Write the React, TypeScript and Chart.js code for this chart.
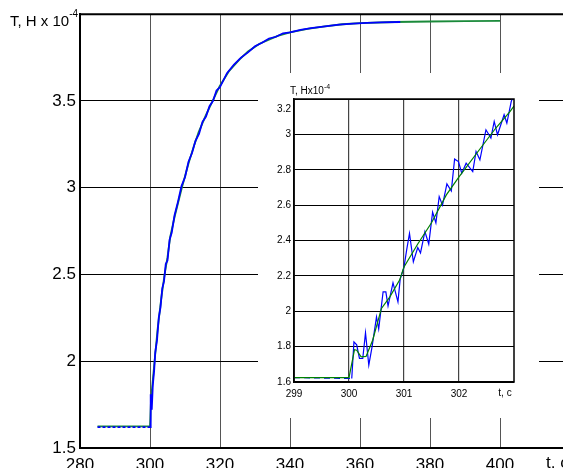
import React, { useEffect, useRef } from 'react';
import { Chart, registerables } from 'chart.js';
Chart.register(...registerables);

// ---------- main chart data ----------
const mainGreenT = [285, 300, 300.3, 301.3, 302.2, 303.2, 304.1, 305.0, 305.8, 307, 309.1, 311, 312.7, 313.9, 316, 317.9, 319.9, 322.5, 325.6, 328, 331.3, 336.5, 340, 345, 350, 355, 360, 370, 380, 390, 400];
const mainGreenV = [1.625, 1.625, 1.78, 2.0, 2.19, 2.36, 2.49, 2.6, 2.72, 2.83, 3.0, 3.14, 3.25, 3.32, 3.42, 3.5, 3.585, 3.67, 3.74, 3.785, 3.83, 3.875, 3.895, 3.915, 3.93, 3.942, 3.948, 3.955, 3.958, 3.96, 3.961];

const mainBlueT = [285, 290, 295, 300, 300.2, 300.5, 300.8, 301.2, 301.5, 302, 302.5, 303, 303.5, 304, 304.5, 305, 305.6, 306.2, 307, 308, 309, 310, 311, 312, 313, 314, 315, 316, 317, 318, 319, 320, 322, 324, 326, 328, 330, 332, 334, 336, 338, 340, 343, 346, 350, 354, 358, 362, 366, 371.5];
const mainBlueV = [1.62, 1.62, 1.62, 1.62, 1.81, 1.72, 1.86, 1.95, 2.05, 2.12, 2.25, 2.31, 2.42, 2.46, 2.56, 2.58, 2.7, 2.74, 2.84, 2.92, 3.01, 3.06, 3.15, 3.2, 3.27, 3.31, 3.38, 3.41, 3.47, 3.5, 3.56, 3.58, 3.66, 3.71, 3.75, 3.78, 3.815, 3.835, 3.86, 3.87, 3.89, 3.895, 3.91, 3.92, 3.93, 3.94, 3.946, 3.95, 3.953, 3.955];

const mainXTicks = [280, 300, 320, 340, 360, 380, 400];
const mainXLabels = ['280', '300', '320', '340', '360', '380', '400'];
const mainYTicks = [1.5, 2, 2.5, 3, 3.5];
const mainYLabels = ['1.5', '2', '2.5', '3', '3.5'];

// ---------- inset data ----------
const insetGreenT = [299, 300, 300.1, 300.14, 300.22, 300.31, 300.43, 300.59, 300.74, 300.92, 301.0, 301.25, 301.5, 301.77, 302.0, 302.37, 302.67, 302.93, 303];
const insetGreenV = [1.625, 1.625, 1.783, 1.78, 1.742, 1.745, 1.836, 2.016, 2.08, 2.176, 2.25, 2.38, 2.5, 2.658, 2.76, 2.913, 3.036, 3.13, 3.16];

const insetBlueT = [299, 300.05, 300.09, 300.14, 300.19, 300.25, 300.3, 300.36, 300.42, 300.5, 300.54, 300.62, 300.67, 300.71, 300.8, 300.89, 300.93, 301.0, 301.05, 301.1, 301.17, 301.25, 301.3, 301.38, 301.45, 301.52, 301.58, 301.64, 301.7, 301.78, 301.86, 301.92, 301.99, 302.05, 302.13, 302.25, 302.31, 302.38, 302.49, 302.58, 302.64, 302.7, 302.82, 302.87, 302.95, 303];
const insetBlueV = [1.625, 1.62, 1.827, 1.81, 1.733, 1.733, 1.878, 1.695, 1.8, 1.968, 1.9, 2.11, 2.11, 2.03, 2.16, 2.053, 2.18, 2.25, 2.35, 2.44, 2.28, 2.36, 2.33, 2.45, 2.38, 2.56, 2.5, 2.648, 2.6, 2.72, 2.68, 2.86, 2.846, 2.78, 2.837, 2.79, 2.903, 2.856, 3.026, 2.979, 3.073, 2.998, 3.111, 3.064, 3.186, 3.23];

const insetXTicks = [299, 300, 301, 302];
const insetXLabels = ['299', '300', '301', '302'];
const insetYTicks = [1.6, 1.8, 2.0, 2.2, 2.4, 2.6, 2.8, 3.0, 3.2];
const insetYLabels = ['1.6', '1.8', '2', '2.2', '2.4', '2.6', '2.8', '3', ''];

const FONT = "'Liberation Sans', Arial, sans-serif";
const NARROW = "'Liberation Sans Narrow', 'Liberation Sans', Arial, sans-serif";

const pts = (t: number[], v: number[]) => t.map((x, i) => ({ x, y: v[i] }));

const mainTextPlugin = {
  id: 'mainText',
  afterDraw(chart: any) {
    const ctx = chart.ctx;
    const a = chart.chartArea;
    ctx.save();
    ctx.strokeStyle = '#000';
    ctx.lineWidth = 2;
    ctx.beginPath();
    ctx.moveTo(a.left, a.top);
    ctx.lineTo(a.right, a.top);
    ctx.stroke();
    ctx.fillStyle = '#000';
    ctx.textBaseline = 'middle';
    ctx.textAlign = 'left';
    ctx.font = `15px ${FONT}`;
    const title = 'T, H x 10';
    ctx.fillText(title, 10, 22);
    const w = ctx.measureText(title).width;
    ctx.font = `10px ${FONT}`;
    ctx.fillText('-4', 10 + w, 14);
    ctx.font = `17px ${FONT}`;
    ctx.textBaseline = 'top';
    ctx.fillText('t, c', 546, 455);
    ctx.restore();
  },
};

const insetTextPlugin = {
  id: 'insetText',
  afterDraw(chart: any) {
    const ctx = chart.ctx;
    const a = chart.chartArea;
    ctx.save();
    ctx.strokeStyle = '#000';
    ctx.lineWidth = 1.5;
    ctx.strokeRect(a.left, a.top, a.right - a.left, a.bottom - a.top);
    ctx.fillStyle = '#000';
    ctx.textAlign = 'left';
    ctx.textBaseline = 'middle';
    ctx.font = `10px ${NARROW}`;
    const title = 'T, Hx10';
    ctx.fillText(title, 32, 18);
    const w = ctx.measureText(title).width;
    ctx.font = `7px ${NARROW}`;
    ctx.fillText('-4', 32 + w, 14);
    ctx.font = `10px ${NARROW}`;
    ctx.textAlign = 'right';
    ctx.fillText('3.2', a.left - 3, a.top + 10);
    ctx.textAlign = 'center';
    ctx.textBaseline = 'top';
    ctx.fillText('t, c', 247, a.bottom + 6);
    ctx.restore();
  },
};

export default function App() {
  const mainRef = useRef<HTMLCanvasElement>(null);
  const insetRef = useRef<HTMLCanvasElement>(null);

  useEffect(() => {
    const main = new Chart(mainRef.current as HTMLCanvasElement, {
      type: 'line',
      data: {
        datasets: [
          {
            data: pts(mainBlueT, mainBlueV),
            borderColor: '#0000ff',
            borderWidth: 1.8,
            pointRadius: 0,
            segment: { borderDash: (c: any) => (c.p1.parsed.x <= 300 ? [3, 2] : undefined) },
          },
          {
            data: pts(mainGreenT, mainGreenV),
            borderColor: '#1a8a3a',
            borderWidth: 1.8,
            pointRadius: 0,
          },
        ],
      },
      options: {
        animation: false,
        responsive: false,
        layout: { padding: { top: 11, left: 0, right: 0, bottom: 0 } },
        plugins: { legend: { display: false }, tooltip: { enabled: false } },
        elements: { line: { tension: 0 } },
        scales: {
          x: {
            type: 'linear',
            min: 280,
            max: 418,
            afterBuildTicks: (s: any) => { s.ticks = mainXTicks.map((v) => ({ value: v })); },
            afterFit: (s: any) => { s.height = 20; },
            grid: { color: '#555', lineWidth: 1, drawTicks: false },
            border: { display: true, color: '#000', width: 2 },
            ticks: {
              font: { family: FONT, size: 17 },
              color: '#000',
              padding: 7,
              maxRotation: 0,
              autoSkip: false,
              callback: (_v: any, i: number) => mainXLabels[i],
            },
          },
          y: {
            type: 'linear',
            min: 1.5,
            max: 4.0,
            afterBuildTicks: (s: any) => { s.ticks = mainYTicks.map((v) => ({ value: v })); },
            afterFit: (s: any) => { s.width = 80; },
            grid: { color: '#000', lineWidth: 1, drawTicks: false },
            border: { display: true, color: '#000', width: 2 },
            ticks: {
              font: { family: FONT, size: 17 },
              color: '#000',
              padding: 4,
              autoSkip: false,
              callback: (_v: any, i: number) => mainYLabels[i],
            },
          },
        },
      } as any,
      plugins: [mainTextPlugin],
    });

    const inset = new Chart(insetRef.current as HTMLCanvasElement, {
      type: 'line',
      data: {
        datasets: [
          {
            data: pts(insetGreenT, insetGreenV),
            borderColor: '#008000',
            borderWidth: 1.2,
            pointRadius: 0,
          },
          {
            data: pts(insetBlueT, insetBlueV),
            borderColor: '#0000ff',
            borderWidth: 1.2,
            pointRadius: 0,
            segment: { borderDash: (c: any) => (c.p1.parsed.x <= 300.05 ? [6, 4] : undefined) },
          },
        ],
      },
      options: {
        animation: false,
        responsive: false,
        clip: 0,
        layout: { padding: { top: 26, left: 0, right: 25, bottom: 0 } },
        plugins: { legend: { display: false }, tooltip: { enabled: false } },
        elements: { line: { tension: 0 } },
        scales: {
          x: {
            type: 'linear',
            min: 299,
            max: 303,
            afterBuildTicks: (s: any) => { s.ticks = insetXTicks.map((v) => ({ value: v })); },
            afterFit: (s: any) => { s.height = 36; },
            grid: { color: '#444', lineWidth: 1.2, drawTicks: false },
            border: { display: true, color: '#000', width: 1.5 },
            ticks: {
              font: { family: NARROW, size: 10 },
              color: '#000',
              padding: 6,
              maxRotation: 0,
              autoSkip: false,
              callback: (_v: any, i: number) => insetXLabels[i],
            },
          },
          y: {
            type: 'linear',
            min: 1.6,
            max: 3.2,
            afterBuildTicks: (s: any) => { s.ticks = insetYTicks.map((v) => ({ value: v })); },
            afterFit: (s: any) => { s.width = 36; },
            grid: { color: '#000', lineWidth: 1, drawTicks: false },
            border: { display: true, color: '#000', width: 1.5 },
            ticks: {
              font: { family: NARROW, size: 10 },
              color: '#000',
              padding: 3,
              autoSkip: false,
              callback: (_v: any, i: number) => insetYLabels[i],
            },
          },
        },
      } as any,
      plugins: [insetTextPlugin],
    });

    return () => {
      main.destroy();
      inset.destroy();
    };
  }, []);

  return (
    <div style={{ position: 'fixed', left: 0, top: 0, width: 563, height: 468, overflow: 'hidden', background: '#fff' }}>
      <canvas ref={mainRef} width={563} height={468} style={{ position: 'absolute', left: 0, top: 0, width: 563, height: 468 }} />
      <div style={{ position: 'absolute', left: 258, top: 73, width: 281, height: 345, background: '#fff' }}>
        <canvas ref={insetRef} width={281} height={345} style={{ width: 281, height: 345 }} />
      </div>
    </div>
  );
}
